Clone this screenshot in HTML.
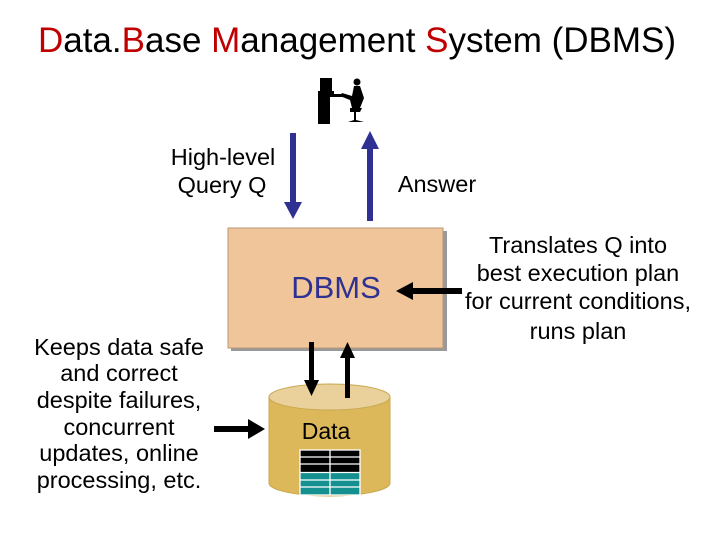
<!DOCTYPE html>
<html><head><meta charset="utf-8"><style>
body{margin:0;background:#fff;}
svg{display:block;font-family:"Liberation Sans",Arial,sans-serif;}
</style></head><body>
<svg width="720" height="540" viewBox="0 0 720 540" xmlns="http://www.w3.org/2000/svg">
<text x="357" y="52" font-size="35" text-anchor="middle" fill="#000"><tspan fill="#c00000">D</tspan>ata.<tspan fill="#c00000">B</tspan>ase <tspan fill="#c00000">M</tspan>anagement <tspan fill="#c00000">S</tspan>ystem (DBMS)</text>
<g fill="#000">
<rect x="320" y="78" width="12" height="14"/>
<rect x="318" y="91" width="16" height="3"/>
<rect x="318" y="96" width="12" height="28"/>
<rect x="318" y="94" width="28" height="3"/>
<circle cx="357" cy="82" r="3.5"/>
<path d="M354 86 L360 86 L364 98 L360 108 L352 108 L350 100 L340 96 L342 93 L352 96 Z"/>
<path d="M350 108 L362 108 L360 112 L356 112 L356 120 L364 122 L348 122 L354 120 L354 112 L350 112 Z"/>
</g>
<g fill="#2e3192">
<rect x="290" y="133" width="6" height="70"/>
<polygon points="284,202 302,202 293,219"/>
<rect x="367" y="148" width="6" height="73"/>
<polygon points="361,149 379,149 370,131"/>
</g>
<g font-size="23.5" text-anchor="middle">
<text x="223" y="165">High-level</text>
<text x="222" y="193">Query Q</text>
<text x="437" y="192">Answer</text>
</g>
<rect x="231" y="231" width="216" height="120" fill="#999"/>
<rect x="228" y="228" width="215" height="120" fill="#f0c59a" stroke="#b89878" stroke-width="1"/>
<text x="336" y="298" font-size="31" text-anchor="middle" fill="#2e3192">DBMS</text>
<rect x="412" y="288" width="50" height="6"/>
<polygon points="413,282 413,300 396,291"/>
<g font-size="23.5" text-anchor="middle">
<text x="578" y="253">Translates Q into</text>
<text x="578" y="281">best execution plan</text>
<text x="578" y="309">for current conditions,</text>
<text x="578" y="339">runs plan</text>
</g>
<path d="M269 397 L269 483 A60.5 13 0 0 0 390 483 L390 397 Z" fill="#dcb85a" stroke="#c8a850"/>
<ellipse cx="329.5" cy="397" rx="60.5" ry="13" fill="#ead09a" stroke="#c8a850"/>
<rect x="309" y="342" width="5" height="40"/>
<polygon points="304,380 319,380 311.5,396"/>
<rect x="345" y="358" width="5" height="40"/>
<polygon points="340,358 355,358 347.5,342"/>
<text x="326" y="439" font-size="23" text-anchor="middle">Data</text>
<rect x="300" y="450" width="60" height="22" fill="#000"/>
<rect x="300" y="473" width="60" height="22" fill="#159090"/>
<g stroke="#fff" stroke-width="1.3">
<rect x="300" y="450" width="60" height="45" fill="none"/>
<line x1="300" y1="457" x2="360" y2="457"/><line x1="300" y1="464" x2="360" y2="464"/>
<line x1="300" y1="472.5" x2="360" y2="472.5"/>
<line x1="300" y1="480" x2="360" y2="480"/><line x1="300" y1="487" x2="360" y2="487"/>
<line x1="330" y1="450" x2="330" y2="495"/>
</g>
<rect x="214" y="426" width="45" height="6"/>
<polygon points="248,419 248,439 265,429"/>
<g font-size="23.5" text-anchor="middle">
<text x="119" y="355">Keeps data safe</text>
<text x="119" y="381">and correct</text>
<text x="119" y="408">despite failures,</text>
<text x="119" y="435">concurrent</text>
<text x="119" y="461">updates, online</text>
<text x="119" y="488">processing, etc.</text>
</g>
</svg>
</body></html>
